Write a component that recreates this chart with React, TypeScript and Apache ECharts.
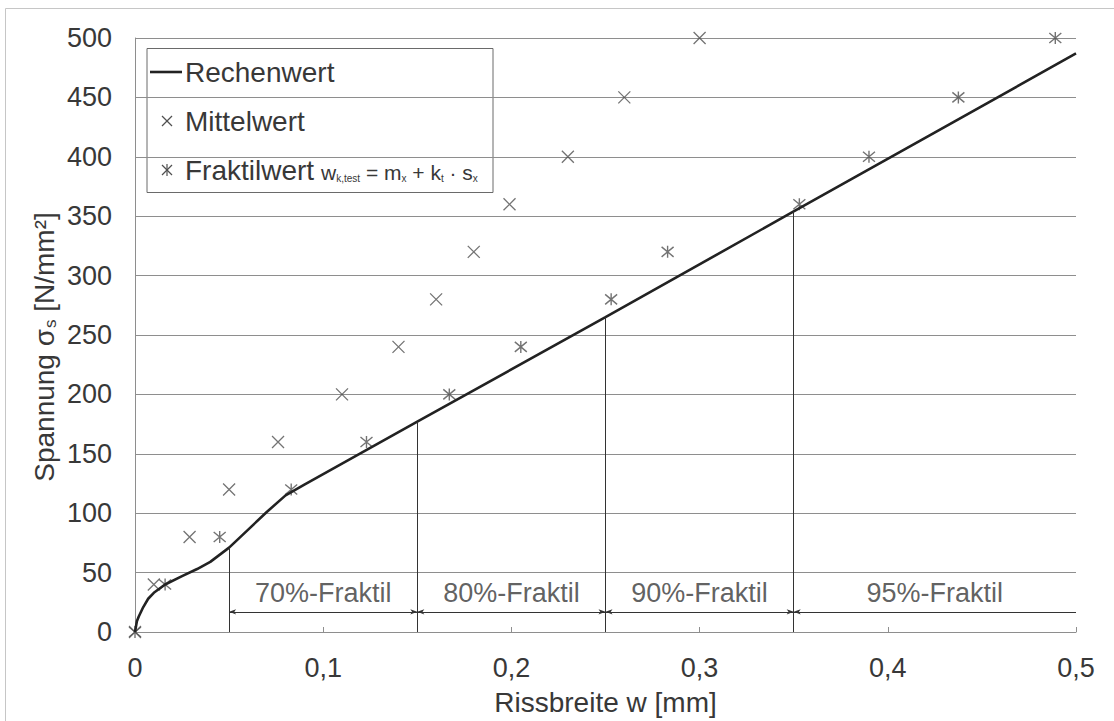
import React, { useEffect, useRef } from "react";
import * as echarts from "echarts";

// ---- data ----
const rechenX = [0, 0.001, 0.002, 0.0044, 0.007, 0.01, 0.016, 0.025, 0.033, 0.04, 0.05, 0.06, 0.07, 0.08, 0.09, 0.15, 0.25, 0.35, 0.5];
const rechenY = [0, 9, 13, 21, 28, 33, 40, 47, 53, 59, 71, 86, 101, 115, 124, 177, 265, 354, 487];

const mittelX = [0, 0.01, 0.029, 0.05, 0.076, 0.11, 0.14, 0.16, 0.18, 0.199, 0.23, 0.26, 0.3];
const mittelY = [0, 40, 80, 120, 160, 200, 240, 280, 320, 360, 400, 450, 500];

const fraktilX = [0, 0.016, 0.045, 0.083, 0.123, 0.167, 0.205, 0.253, 0.283, 0.353, 0.39, 0.4375, 0.489];
const fraktilY = [0, 40, 80, 120, 160, 200, 240, 280, 320, 360, 400, 450, 500];

const fraktilBounds = [0.05, 0.15, 0.25, 0.35, 0.5];
const fraktilLabels = ["70%-Fraktil", "80%-Fraktil", "90%-Fraktil", "95%-Fraktil"];
const dimLineY = 17;
const dimLabelY = 33;

const xTicks = { min: 0, max: 0.5, interval: 0.1 };
const yTicks = { min: 0, max: 500, interval: 50 };

// ---- styles ----
const FONT = '"Liberation Sans", Arial, Helvetica, sans-serif';
const TXT = "#383838";
const GRID = "#8e8e8e";
const MARK = "#505050";
const crossPath = "path://M0,0L10,10M10,0L0,10";
const asteriskPath = "path://M0,0L10,10M10,0L0,10M5,-1L5,11";

function rechenAt(x: number): number {
  const i = rechenX.indexOf(x);
  return i >= 0 ? rechenY[i] : 0;
}

export default function App() {
  const ref = useRef<HTMLDivElement>(null);

  useEffect(() => {
    if (!ref.current) return;
    const chart = echarts.init(ref.current, null, { renderer: "svg" });

    const verticals = fraktilBounds.slice(0, 4).map((x) => [
      { coord: [x, 0] },
      { coord: [x, rechenAt(x)] },
    ]);
    const arrows = fraktilBounds.slice(0, 4).map((x, i) => [
      { coord: [x, dimLineY], symbol: "arrow", symbolSize: [4, 7] },
      {
        coord: [fraktilBounds[i + 1], dimLineY],
        symbol: i < 3 ? "arrow" : "none",
        symbolSize: [4, 7],
      },
    ]);
    const labelData = fraktilLabels.map((t, i) => [
      (fraktilBounds[i] + fraktilBounds[i + 1]) / 2,
      dimLabelY,
      t,
    ]);

    const legendTextStyle = { fontSize: 28, fill: TXT, fontFamily: FONT, verticalAlign: "middle" };

    chart.setOption({
      animation: false,
      backgroundColor: "#fff",
      grid: { left: 135, top: 38, width: 941, height: 600.5, containLabel: false },
      xAxis: {
        type: "value",
        min: xTicks.min,
        max: xTicks.max,
        interval: xTicks.interval,
        axisLine: { show: true, lineStyle: { color: GRID, width: 1 } },
        axisTick: { show: true, inside: true, length: 5, lineStyle: { color: GRID } },
        splitLine: { show: false },
        axisLabel: {
          fontSize: 27,
          color: TXT,
          fontFamily: FONT,
          margin: 22,
          formatter: (v: number) => (v === 0 ? "0" : v.toFixed(1).replace(".", ",")),
        },
        name: "Rissbreite w [mm]",
        nameLocation: "middle",
        nameGap: 56,
        nameTextStyle: { fontSize: 28, color: TXT, fontFamily: FONT },
      },
      yAxis: {
        type: "value",
        min: yTicks.min,
        max: yTicks.max,
        interval: yTicks.interval,
        axisLine: { show: true, lineStyle: { color: GRID, width: 1 } },
        axisTick: { show: true, inside: true, length: 7, lineStyle: { color: GRID } },
        splitLine: { show: true, lineStyle: { color: GRID, width: 1 } },
        axisLabel: { fontSize: 27, color: TXT, fontFamily: FONT, margin: 23 },
      },
      series: [
        {
          name: "Rechenwert",
          type: "line",
          data: rechenX.map((x, i) => [x, rechenY[i]]),
          symbol: "none",
          lineStyle: { color: "#222", width: 2.6 },
          z: 4,
          silent: true,
          markLine: {
            silent: true,
            symbol: ["none", "none"],
            label: { show: false },
            lineStyle: { color: "#333", width: 1, type: "solid" },
            emphasis: { disabled: true },
            data: [...verticals, ...arrows],
          },
        },
        {
          name: "Mittelwert",
          type: "scatter",
          data: mittelX.map((x, i) => [x, mittelY[i]]),
          symbol: crossPath,
          symbolSize: 12,
          clip: false,
          itemStyle: { color: "transparent", borderColor: MARK, borderWidth: 1.3 },
          z: 3,
        },
        {
          name: "Fraktilwert",
          type: "scatter",
          data: fraktilX.map((x, i) => [x, fraktilY[i]]),
          symbol: asteriskPath,
          symbolSize: 12,
          clip: false,
          itemStyle: { color: "transparent", borderColor: MARK, borderWidth: 1.4 },
          z: 3,
        },
        {
          name: "labels",
          type: "scatter",
          data: labelData,
          symbolSize: 1,
          itemStyle: { color: "transparent" },
          silent: true,
          label: {
            show: true,
            position: "inside",
            formatter: (p: any) => p.data[2],
            fontSize: 27,
            color: TXT,
            fontFamily: FONT,
          },
          z: 5,
        },
      ],
      graphic: [
        {
          type: "rect",
          z: -10,
          silent: true,
          shape: { x: 5.5, y: 8.5, width: 1200, height: 1000 },
          style: { fill: "none", stroke: "#c6c6c6", lineWidth: 1 },
        },
        {
          type: "text",
          x: 44,
          y: 347,
          rotation: Math.PI / 2,
          silent: true,
          style: {
            text: "{a|Spannung σ}{b|s}{a| [N/mm²]}",
            align: "center",
            verticalAlign: "middle",
            fill: TXT,
            fontFamily: FONT,
            rich: {
              a: { fontSize: 28, fontFamily: FONT, fill: TXT },
              b: { fontSize: 17, fontFamily: FONT, fill: TXT, padding: [13, 0, 0, 1] },
            },
          },
        },
        {
          type: "group",
          z: 100,
          silent: true,
          children: [
            {
              type: "rect",
              shape: { x: 147, y: 48.5, width: 346, height: 144 },
              style: { fill: "#fff", stroke: "#6a6a6a", lineWidth: 1 },
            },
            {
              type: "line",
              shape: { x1: 150, y1: 72, x2: 182, y2: 72 },
              style: { stroke: "#222", lineWidth: 2.6 },
            },
            { type: "text", x: 185, y: 72, style: { ...legendTextStyle, text: "Rechenwert" } },
            { type: "line", shape: { x1: 162, y1: 116, x2: 172, y2: 126 }, style: { stroke: MARK, lineWidth: 1.2 } },
            { type: "line", shape: { x1: 172, y1: 116, x2: 162, y2: 126 }, style: { stroke: MARK, lineWidth: 1.2 } },
            { type: "text", x: 185, y: 121, style: { ...legendTextStyle, text: "Mittelwert" } },
            { type: "line", shape: { x1: 162, y1: 165, x2: 172, y2: 175 }, style: { stroke: MARK, lineWidth: 1.2 } },
            { type: "line", shape: { x1: 172, y1: 165, x2: 162, y2: 175 }, style: { stroke: MARK, lineWidth: 1.2 } },
            { type: "line", shape: { x1: 167, y1: 164, x2: 167, y2: 176 }, style: { stroke: MARK, lineWidth: 1.2 } },
            { type: "text", x: 185, y: 170, style: { ...legendTextStyle, text: "Fraktilwert" } },
            {
              type: "text",
              x: 321,
              y: 172,
              style: {
                text: "{m|w}{s|k,test}{m| = m}{s|x}{m| + k}{s|t}{m| · s}{s|x}",
                verticalAlign: "middle",
                fill: TXT,
                fontFamily: FONT,
                rich: {
                  m: { fontSize: 21, fontFamily: FONT, fill: TXT },
                  s: { fontSize: 10, fontFamily: FONT, fill: TXT, padding: [12, 0, 0, 0] },
                },
              },
            },
          ],
        },
      ],
    });

    return () => chart.dispose();
  }, []);

  return (
    <div
      ref={ref}
      style={{ position: "fixed", left: 0, top: 0, width: 1114, height: 721, background: "#fff" }}
    />
  );
}
